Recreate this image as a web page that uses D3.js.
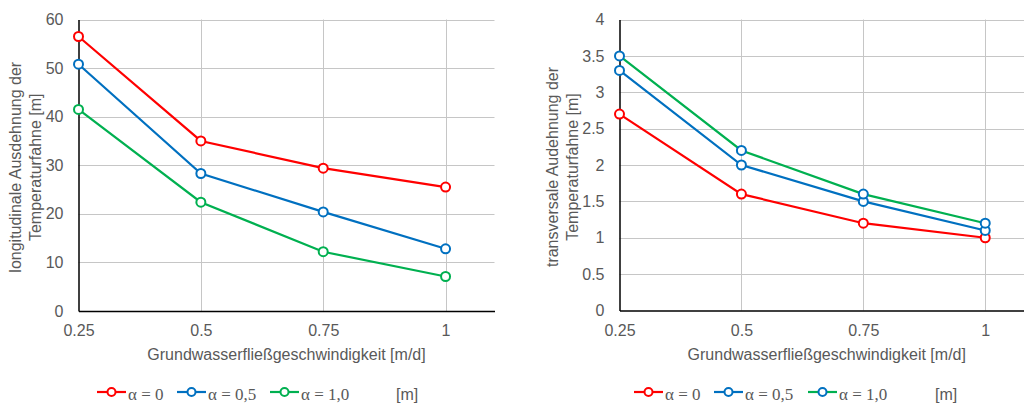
<!DOCTYPE html>
<html>
<head>
<meta charset="utf-8">
<script src="https://cdn.jsdelivr.net/npm/d3@7"></script>
<style>
  html, body { margin: 0; padding: 0; background: #fff; }
  svg { display: block; font-family: "Liberation Sans", Arial, sans-serif; }
  .tick text { fill: #595959; font-size: 16px; font-family: "Liberation Sans", Arial, sans-serif; }
  .grid line { stroke: #c6c6c6; stroke-width: 1; }
</style>
</head>
<body>
<svg id="chart" width="1024" height="403"></svg>
<script>
// Data
const speeds = [0.25, 0.5, 0.75, 1];
const xTicks = [0.25, 0.5, 0.75, 1];

const longAlpha0 = [56.5, 35.0, 29.4, 25.5];
const longAlpha05 = [50.8, 28.3, 20.4, 12.8];
const longAlpha10 = [41.5, 22.4, 12.2, 7.1];
const longTicks = [0, 10, 20, 30, 40, 50, 60];

const transAlpha0 = [2.7, 1.6, 1.2, 1.0];
const transAlpha05 = [3.3, 2.0, 1.5, 1.1];
const transAlpha10 = [3.5, 2.2, 1.6, 1.2];
const transTicks = [0, 0.5, 1, 1.5, 2, 2.5, 3, 3.5, 4];

const seriesNames = ['α = 0', 'α = 0,5', 'α = 1,0'];
const RED = '#ff0000', BLUE = '#0070c0', GREEN = '#00b050';

const svg = d3.select('#chart');

function drawPanel(opts) {
    const g = svg.append('g');
    const x = d3.scaleLinear().domain([0.25, 1.1]).range([opts.left, opts.right]);
    const y = d3.scaleLinear().domain([0, opts.yMax]).range([opts.bottom, opts.top]);

    // gridlines
    g.append('g').attr('class', 'grid')
        .selectAll('line.h').data(opts.yTicks.filter(d => d > 0)).enter()
        .append('line')
        .attr('x1', opts.left).attr('x2', opts.right)
        .attr('y1', d => Math.round(y(d)) + 0.5).attr('y2', d => Math.round(y(d)) + 0.5);
    g.append('g').attr('class', 'grid')
        .selectAll('line.v').data(xTicks.slice(1)).enter()
        .append('line')
        .attr('y1', opts.top).attr('y2', opts.bottom)
        .attr('x1', d => Math.round(x(d)) + 0.5).attr('x2', d => Math.round(x(d)) + 0.5);

    // axes
    const xAxis = g.append('g')
        .attr('transform', `translate(0,${opts.bottom})`)
        .call(d3.axisBottom(x).tickValues(xTicks).tickSize(0).tickPadding(14).tickFormat(d3.format('')));
    xAxis.select('.domain').attr('stroke', '#000').attr('stroke-width', 1.5);

    const yAxis = g.append('g')
        .attr('transform', `translate(${opts.left},0)`)
        .call(d3.axisLeft(y).tickValues(opts.yTicks).tickSize(0).tickPadding(15).tickFormat(d3.format('')));
    yAxis.select('.domain').attr('stroke', '#000').attr('stroke-width', 1.5);

    // axis titles
    g.append('text')
        .attr('x', (opts.left + opts.right) / 2)
        .attr('y', opts.bottom + 49)
        .attr('text-anchor', 'middle')
        .attr('fill', '#595959')
        .style('font-size', '16px')
        .text('Grundwasserfließgeschwindigkeit [m/d]');

    const yt = g.append('text')
        .attr('transform', `translate(${opts.titleX},${(opts.top + opts.bottom) / 2 + 2}) rotate(-90)`)
        .attr('text-anchor', 'middle')
        .attr('fill', '#595959')
        .style('font-size', '16px');
    yt.append('tspan').attr('x', 0).attr('dy', '0').text(opts.yTitle[0]);
    yt.append('tspan').attr('x', 0).attr('dy', '20').text(opts.yTitle[1]);

    // series
    const line = d3.line().x((d, i) => x(speeds[i])).y(d => y(d));
    opts.series.forEach(s => {
        g.append('path')
            .datum(s.values)
            .attr('d', line)
            .attr('fill', 'none')
            .attr('stroke', s.color)
            .attr('stroke-width', 2.2);
    });
    opts.series.forEach(s => {
        g.selectAll(null).data(s.values).enter()
            .append('circle')
            .attr('cx', (d, i) => x(speeds[i]))
            .attr('cy', d => y(d))
            .attr('r', 4.5)
            .attr('fill', '#fff')
            .attr('stroke', s.marker)
            .attr('stroke-width', 2);
    });

    // legend
    const lg = g.append('g');
    opts.series.forEach((s, i) => {
        const lx = opts.legendX[i];
        lg.append('line')
            .attr('x1', lx).attr('x2', lx + 29)
            .attr('y1', 392).attr('y2', 392)
            .attr('stroke', s.color).attr('stroke-width', 2.2);
        lg.append('circle')
            .attr('cx', lx + 14.5).attr('cy', 392).attr('r', 4)
            .attr('fill', '#fff').attr('stroke', s.marker).attr('stroke-width', 2);
        lg.append('text')
            .attr('x', lx + 31).attr('y', 400)
            .attr('fill', '#595959')
            .style('font-family', '"Liberation Serif", "Times New Roman", serif')
            .style('font-size', '17px')
            .text(seriesNames[i]);
    });
    lg.append('text')
        .attr('x', opts.unitX).attr('y', 400)
        .attr('fill', '#595959')
        .style('font-size', '16px')
        .text('[m]');
}

drawPanel({
    left: 78.5, right: 494.5, top: 19.5, bottom: 311,
    yMax: 60, yTicks: longTicks,
    titleX: 21,
    yTitle: ['longitudinale Ausdehnung der', 'Temperaturfahne [m]'],
    series: [
        { values: longAlpha0, color: RED, marker: RED },
        { values: longAlpha05, color: BLUE, marker: BLUE },
        { values: longAlpha10, color: GREEN, marker: GREEN }
    ],
    legendX: [97, 177, 270],
    unitX: 396
});

drawPanel({
    left: 619.5, right: 1034, top: 19.5, bottom: 310.5,
    yMax: 4, yTicks: transTicks,
    titleX: 558,
    yTitle: ['transversale Audehnung der', 'Temperaturfahne [m]'],
    series: [
        { values: transAlpha0, color: RED, marker: RED },
        { values: transAlpha05, color: BLUE, marker: BLUE },
        { values: transAlpha10, color: GREEN, marker: BLUE }
    ],
    legendX: [634, 714, 808],
    unitX: 935
});
</script>
</body>
</html>
